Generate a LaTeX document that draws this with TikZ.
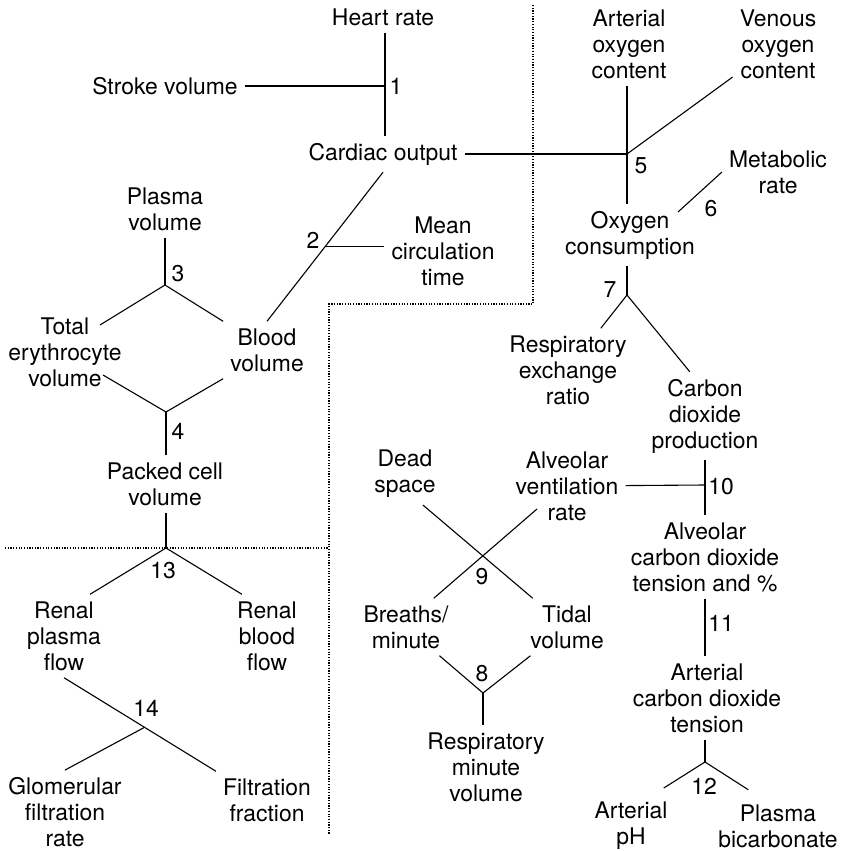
\documentclass[tikz,border=0pt]{standalone}
\usepackage{fontspec}
\setmainfont{TeX Gyre Heros}
\usepackage{tikz}
\usetikzlibrary{calc}

\begin{document}
\begin{tikzpicture}[x=1pt, y=-1pt]

	% Define block styles
	\tikzstyle{term} = [align=center, inner sep=7pt, font=\fontsize{22.9}{26}\selectfont]
	\tikzstyle{num} = [inner sep=0pt, font=\fontsize{22.9}{26}\selectfont]
	\tikzstyle{line} = [draw, line width=1.1pt]
	\tikzstyle{divider} = [draw, line width=1.2pt, dash pattern=on 1.2pt off 1.5pt]

	\useasboundingbox (0,0) rectangle (843,851);

	% Nodes
	\node [term] (heart) at (383,17) {Heart rate};
	\node [term] (stroke) at (165,86) {Stroke volume};
	\node [term] (cardiac) at (383,154) {Cardiac output};
	\node [term] (mean) at (443,251) {Mean\\circulation\\time};
	\node [term] (plasma) at (165,209) {Plasma\\volume};
	\node [term] (totery) at (65,352) {Total\\erythrocyte\\volume};
	\node [term] (blood) at (267,350) {Blood\\volume};
	\node [term] (packed) at (165,484) {Packed cell\\volume};
	\node [term] (rpf) at (64,636) {Renal\\plasma\\flow};
	\node [term] (rbf) at (267,636) {Renal\\blood\\flow};
	\node [term] (gfr) at (65,812) {Glomerular\\filtration\\rate};
	\node [term] (ff) at (267,800) {Filtration\\fraction};
	\node [term] (aoc) at (629,44) {Arterial\\oxygen\\content};
	\node [term] (voc) at (778,44) {Venous\\oxygen\\content};
	\node [term] (metab) at (778,172) {Metabolic\\rate};
	\node [term] (oxy) at (630,235) {Oxygen\\consumption};
	\node [term] (rer) at (568,370) {Respiratory\\exchange\\ratio};
	\node [term] (cdp) at (705,416) {Carbon\\dioxide\\production};
	\node [term] (dead) at (405,474) {Dead\\space};
	\node [term] (avr) at (567,486) {Alveolar\\ventilation\\rate};
	\node [term] (aco2) at (705,557) {Alveolar\\carbon dioxide\\tension and \%};
	\node [term] (bpm) at (406,627) {Breaths/\\minute};
	\node [term] (tidal) at (567,627) {Tidal\\volume};
	\node [term] (rmv) at (486,767) {Respiratory\\minute\\volume};
	\node [term] (acdt) at (707,698) {Arterial\\carbon dioxide\\tension};
	\node [term] (artph) at (631,826) {Arterial\\pH};
	\node [term] (bicarb) at (778,826) {Plasma\\bicarbonate};

	% Junctions and loose ends
	\coordinate (j1) at (385,86);
	\coordinate (j2) at ($(cardiac.south)!0.5!(blood.north)$);
	\coordinate (j3) at (165,285);
	\coordinate (j4) at (166,412);
	\coordinate (j5) at (627,154);
	\coordinate (j7) at (627,295);
	\coordinate (j8) at (483,693);
	\coordinate (j10) at (705,485);
	\coordinate (j12) at (705,762);
	\coordinate (j13) at (166,548);
	\coordinate (j14) at ($(rpf.south)!0.53!(ff.north west)$);
	\coordinate (totery-in) at (100,325);
	\coordinate (totery-out) at (103,375);
	\coordinate (oxy-out) at (678,212);
	\coordinate (avr-out) at (537,509);

	% Paths
	\path [line] (heart.south -| j1) -- (cardiac.north -| j1);
	\path [line] (stroke) -- (j1);
	\path [line] (cardiac.south) -- (blood.north);
	\path [line] (j2) -- (j2 -| mean.west);
	\path [line] (plasma.south -| j3) -- (j3);
	\path [line] (totery-in) -- (j3) -- (blood.north west);
	\path [line] (totery-out) -- (j4) -- (blood.south west);
	\path [line] (j4) -- (packed.north -| j4);
	\path [line] (packed.south -| j13) -- (j13);
	\path [line] (rpf.58) -- (j13) -- (rbf.121);
	\path [line] (rpf.south) -- (ff.north west);
	\path [line] (j14) -- (gfr.north);
	\path [line] (cardiac) -- (j5);
	\path [line] (aoc.south -| j5) -- (oxy.north -| j5);
	\path [line] (j5) -- (voc);
	\path [line] (oxy-out) -- (metab.west);
	\path [line] (oxy.south -| j7) -- (j7);
	\path [line] (rer) -- (j7) -- (cdp.109);
	\path [line] (cdp.south -| j10) -- (aco2.north -| j10);
	\path [line] (avr) -- (j10);
	\path [line] (dead.300) -- (tidal.140);
	\path [line] (avr-out) -- (bpm.46);
	\path [line] (bpm) -- (j8) -- (tidal);
	\path [line] (j8) -- (rmv.north -| j8);
	\path [line] (aco2.south) -- (aco2.south |- acdt.north);
	\path [line] (acdt.south -| j12) -- (j12);
	\path [line, shorten >=13pt] (j12) -- (artph.55);
	\path [line, shorten >=14pt] (j12) -- (bicarb.122);

	% Dotted dividers
	\path [divider] (533,5) -- (533,304) -- (329,304) -- (329,835);
	\path [divider] (5,548) -- (329,548);

	% Numbers
	\node [num] (n1) at (396,86) {1};
	\node [num] (n2) at (313,240) {2};
	\node [num] (n3) at (178,274) {3};
	\node [num] (n4) at (178,431) {4};
	\node [num] (n5) at (641,166) {5};
	\node [num] (n6) at (711,209) {6};
	\node [num] (n7) at (610,290) {7};
	\node [num] (n8) at (482,674) {8};
	\node [num] (n9) at (482,577) {9};
	\node [num] (n10) at (721,487) {10};
	\node [num] (n11) at (721,623) {11};
	\node [num] (n12) at (704,786) {12};
	\node [num] (n13) at (163,571) {13};
	\node [num] (n14) at (146,708) {14};
\end{tikzpicture}
\end{document}
